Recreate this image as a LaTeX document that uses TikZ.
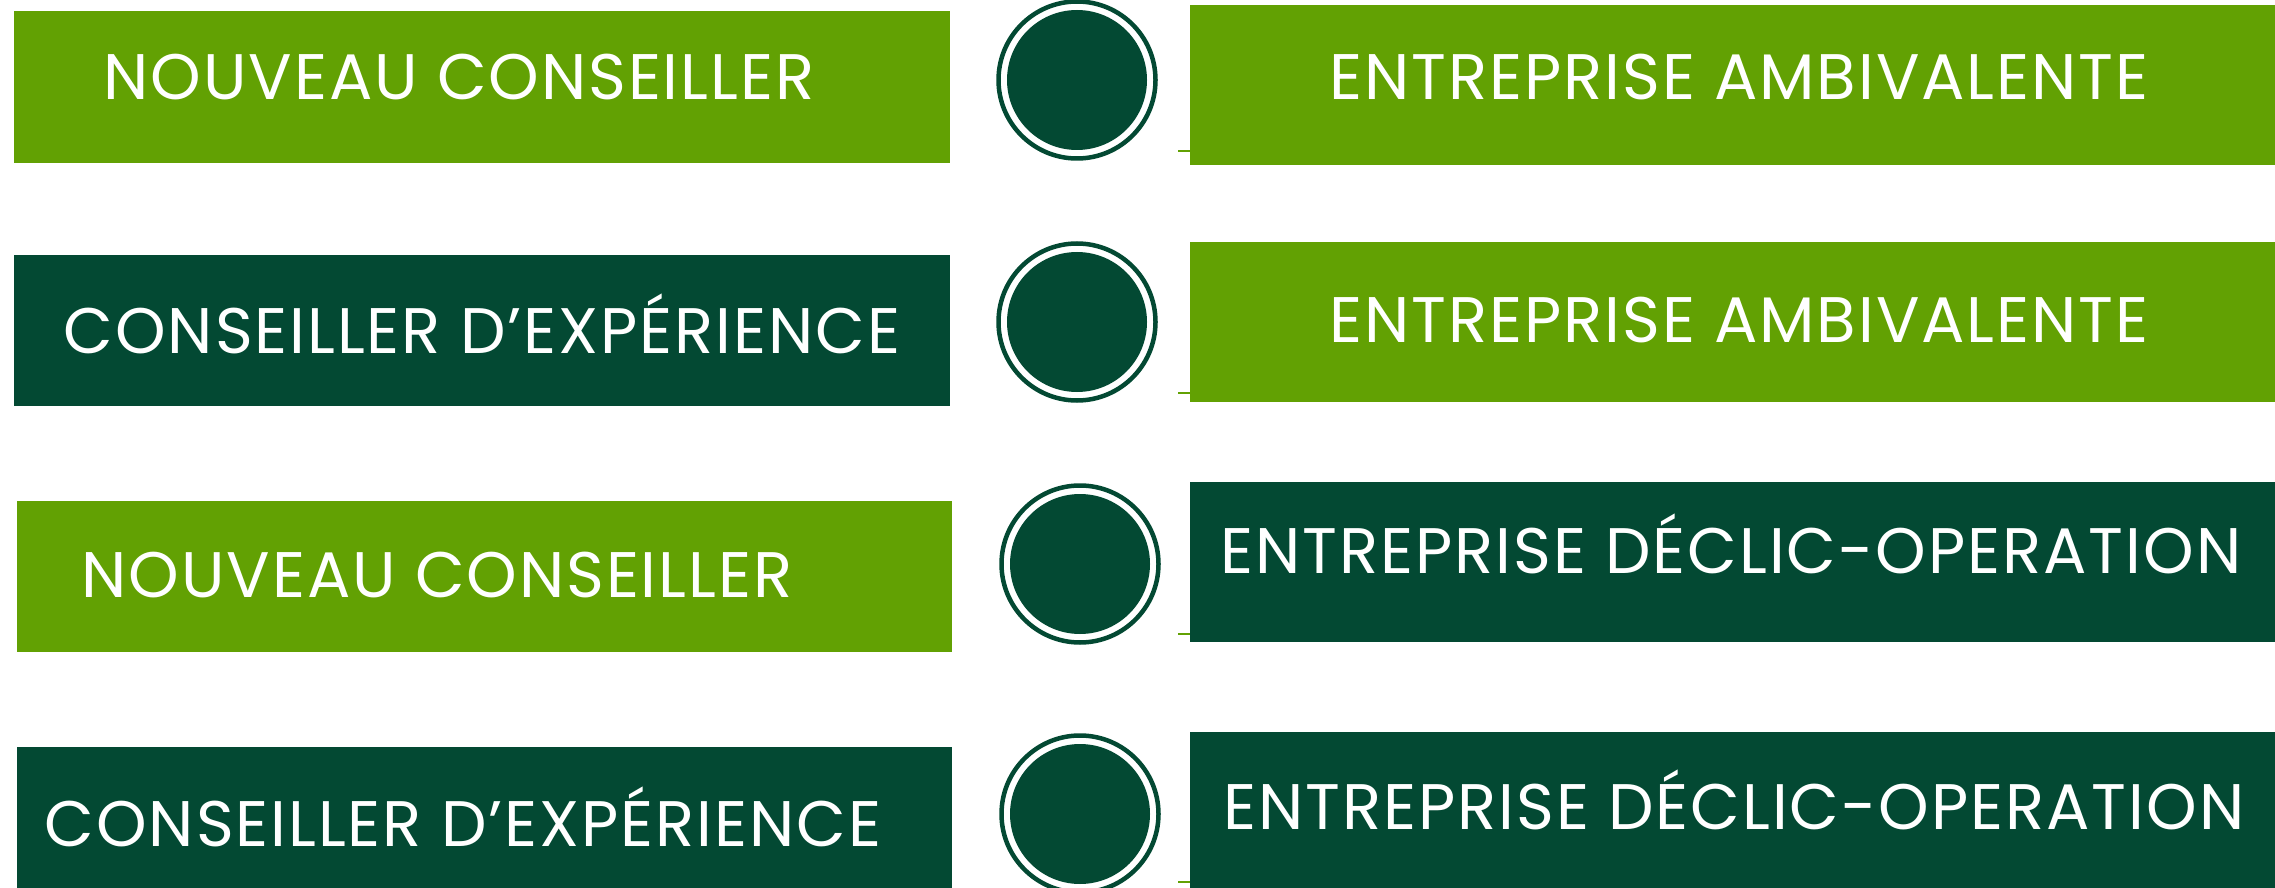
\documentclass[tikz,border=0pt]{standalone}
\usepackage{fontspec}
\setmainfont{Poppins}[LetterSpace=3]
\usepackage{tikz}
\usetikzlibrary{positioning}

\begin{document}
\begin{tikzpicture}[x=0.01cm, y=-0.01cm]
    % Colors and styles
    \definecolor{leafgreen}{RGB}{98, 161, 3} % light green
    \definecolor{pinegreen}{RGB}{3, 73, 51} % dark green
    \tikzstyle{tag}=[text=white, font=\fontsize{18.3}{20}\selectfont, inner sep=0pt, anchor=base]
    \tikzstyle{ring}=[draw=pinegreen, line width=1.28pt]

    \useasboundingbox (0,0) rectangle (2275,888);

    % Left boxes (advisers)
    \fill[leafgreen] (14,11) rectangle (950,163);
    \fill[pinegreen] (14,255) rectangle (950,406);
    \fill[leafgreen] (17,501) rectangle (952,652);
    \fill[pinegreen] (17,747) rectangle (952,888);

    % Right boxes (companies)
    \fill[leafgreen] (1190,5) rectangle (2275,165);
    \fill[leafgreen] (1190,242) rectangle (2275,402);
    \fill[pinegreen] (1190,482) rectangle (2275,642);
    \fill[pinegreen] (1190,732) rectangle (2275,888);

    % Small slivers at the foot of the right boxes
    \foreach \y in {151,393,634,882}
    {
        \draw[leafgreen, line width=0.3pt] (1178,\y) -- (1190,\y);
    }

    % Circles in the middle
    \foreach \x/\y in {1077/80, 1077/322, 1080/564, 1080/814}
    {
        \draw[ring] (\x,\y) circle[radius=78.5];
        \fill[pinegreen] (\x,\y) circle[radius=70];
    }

    % Labels
    \node[tag] (adv1) at (459,100) {NOUVEAU CONSEILLER};
    \node[tag] (adv2) at (482,353.5) {CONSEILLER D’EXPÉRIENCE};
    \node[tag] (adv3) at (437,597) {NOUVEAU CONSEILLER};
    \node[tag] (adv4) at (463,846.5) {CONSEILLER D’EXPÉRIENCE};

    \node[tag] (firm1) at (1739,100) {ENTREPRISE AMBIVALENTE};
    \node[tag] (firm2) at (1739,343) {ENTREPRISE AMBIVALENTE};
    \node[tag] (firm3) at (1731,573.5) {ENTREPRISE DÉCLIC-OPERATION};
    \node[tag] (firm4) at (1734,829) {ENTREPRISE DÉCLIC-OPERATION};

\end{tikzpicture}
\end{document}
